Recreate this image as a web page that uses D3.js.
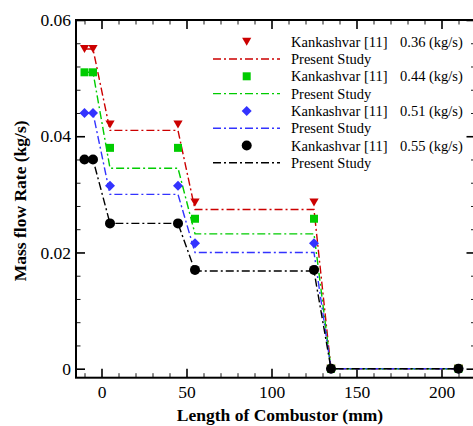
<!DOCTYPE html>
<html><head><meta charset="utf-8">
<script src="https://cdn.jsdelivr.net/npm/d3@7"></script>
<style>body{margin:0;background:#fff}svg{display:block}</style>
</head><body>
<svg id="c" width="473" height="426"></svg>
<script>
const xPos = [-10, -5, 5, 45, 55, 125, 135, 210];
const expRed   = [0.055, 0.055, 0.042, 0.042, 0.0286, 0.0286, 0, 0];
const expGreen = [0.051, 0.051, 0.038, 0.038, 0.0258, 0.0258, 0, 0];
const expBlue  = [0.044, 0.044, 0.0315, 0.0315, 0.0216, 0.0216, 0, 0];
const expBlack = [0.036, 0.036, 0.025, 0.025, 0.017, 0.017, 0, 0];
const simRed   = [0.055, 0.055, 0.041, 0.041, 0.0274, 0.0274, 0, 0];
const simGreen = [0.051, 0.051, 0.0345, 0.0345, 0.0232, 0.0232, 0, 0];
const simBlue  = [0.044, 0.044, 0.030, 0.030, 0.020, 0.020, 0, 0];
const simBlack = [0.036, 0.036, 0.025, 0.025, 0.0168, 0.0168, 0, 0];
const flowLabels = ["0.36 (kg/s)", "0.44 (kg/s)", "0.51 (kg/s)", "0.55 (kg/s)"];
const xTicks = [0, 50, 100, 150, 200];
const yTicks = [0, 0.02, 0.04, 0.06];

const colors = ["#cc0000", "#00cc00", "#3333ff", "#000000"];
const shapes = ["tri", "square", "diamond", "circle"];
const exp = [expRed, expGreen, expBlue, expBlack];
const sim = [simRed, simGreen, simBlue, simBlack];

const L = 76, T = 20, R = 475.5, B = 377.7;
const x = d3.scaleLinear().domain([-15, 220]).range([L, R]);
const y = d3.scaleLinear().domain([-0.00155, 0.06]).range([B, T]);

const svg = d3.select("#c");
const serif = "'Liberation Serif','Times New Roman',serif";

const shapeTypes = {
  tri: {draw(c, s){ const w=4.6, h=4; c.moveTo(-w,-h); c.lineTo(w,-h); c.lineTo(0,h); c.closePath(); }},
  square: {draw(c, s){ const a=4; c.moveTo(-a,-a); c.lineTo(a,-a); c.lineTo(a,a); c.lineTo(-a,a); c.closePath(); }},
  diamond: {draw(c, s){ const a=5; c.moveTo(0,-a); c.lineTo(a,0); c.lineTo(0,a); c.lineTo(-a,0); c.closePath(); }},
  circle: {draw(c, s){ const r=5; c.moveTo(r,0); c.arc(0,0,r,0,2*Math.PI); }}
};
const sym = k => d3.symbol().type(shapeTypes[k])();

const xMinor = d3.range(-10, 220, 10).filter(v => v % 50 !== 0);
const yMinor = d3.range(0.004, 0.06, 0.004).filter(v => Math.abs(v/0.02 - Math.round(v/0.02)) > 1e-6);

function axisStyle(g){
  g.select(".domain").remove();
  g.selectAll("line").attr("stroke","#000").attr("stroke-width",1.6);
  g.selectAll("text").attr("font-family", serif).attr("font-size", 17.5).attr("fill","#000");
}
function minorStyle(g){
  g.select(".domain").remove();
  g.selectAll("line").attr("stroke","#000").attr("stroke-width",0.9);
}

svg.append("g").attr("transform",`translate(0,${B})`)
  .call(d3.axisBottom(x).tickValues(xTicks).tickSize(-9).tickPadding(8).tickFormat(d3.format("d"))).call(axisStyle);
svg.append("g").attr("transform",`translate(0,${B})`)
  .call(d3.axisBottom(x).tickValues(xMinor).tickSize(-4.5).tickFormat("")).call(minorStyle);
svg.append("g").attr("transform",`translate(0,${T})`)
  .call(d3.axisTop(x).tickValues(xTicks).tickSize(-9).tickFormat("")).call(axisStyle);
svg.append("g").attr("transform",`translate(0,${T})`)
  .call(d3.axisTop(x).tickValues(xMinor).tickSize(-4.5).tickFormat("")).call(minorStyle);
svg.append("g").attr("transform",`translate(${L},0)`)
  .call(d3.axisLeft(y).tickValues(yTicks).tickSize(-9).tickPadding(5)
    .tickFormat(d => d === 0 ? "0" : d3.format(".2f")(d))).call(axisStyle);
svg.append("g").attr("transform",`translate(${L},0)`)
  .call(d3.axisLeft(y).tickValues(yMinor).tickSize(-4.5).tickFormat("")).call(minorStyle);
svg.append("g").attr("transform",`translate(${R},0)`)
  .call(d3.axisRight(y).tickValues(yTicks).tickSize(-9).tickFormat("")).call(axisStyle);
svg.append("g").attr("transform",`translate(${R},0)`)
  .call(d3.axisRight(y).tickValues(yMinor).tickSize(-4.5).tickFormat("")).call(minorStyle);

svg.append("rect").attr("x",L).attr("y",T).attr("width",R-L).attr("height",B-T)
  .attr("fill","none").attr("stroke","#000").attr("stroke-width",2);

const line = d3.line().x((d,i)=>x(xPos[i])).y(d=>y(d));
for (let s = 0; s < 4; s++) {
  svg.append("path").attr("d", line(sim[s])).attr("fill","none")
    .attr("stroke", colors[s]).attr("stroke-width",1.4).attr("stroke-dasharray","8,3,2,3");
}
for (let s = 0; s < 4; s++) {
  svg.append("g").selectAll("path").data(exp[s]).join("path")
    .attr("d", sym(shapes[s]))
    .attr("transform",(d,i)=>`translate(${x(xPos[i])},${y(d)})`)
    .attr("fill", colors[s]);
}

const leg = svg.append("g");
const rowY0 = 41.7, rowStep = 17.3;
for (let s = 0; s < 4; s++) {
  const y1 = rowY0 + rowStep * (2*s), y2 = rowY0 + rowStep * (2*s+1);
  leg.append("path").attr("d", sym(shapes[s])).attr("transform",`translate(246.7,${y1})`).attr("fill",colors[s]);
  leg.append("text").attr("x",291).attr("y",y1).attr("dy","0.35em").text("Kankashvar [11]");
  leg.append("text").attr("x",400).attr("y",y1).attr("dy","0.35em").text(flowLabels[s]);
  leg.append("line").attr("x1",213).attr("x2",280).attr("y1",y2).attr("y2",y2)
    .attr("stroke",colors[s]).attr("stroke-width",1.4).attr("stroke-dasharray","8,3,2,3");
  leg.append("text").attr("x",291).attr("y",y2).attr("dy","0.35em").text("Present Study");
}
leg.selectAll("text").attr("font-family",serif).attr("font-size",14.5).attr("fill","#000");

svg.append("text").attr("x",280).attr("y",421).attr("text-anchor","middle")
  .attr("font-family",serif).attr("font-weight","bold").attr("font-size",17.5)
  .text("Length of Combustor (mm)");
svg.append("text").attr("transform",`translate(26,${(T+B)/2+2}) rotate(-90)`).attr("text-anchor","middle")
  .attr("font-family",serif).attr("font-weight","bold").attr("font-size",17.5)
  .text("Mass flow Rate (kg/s)");
</script>
</body></html>
